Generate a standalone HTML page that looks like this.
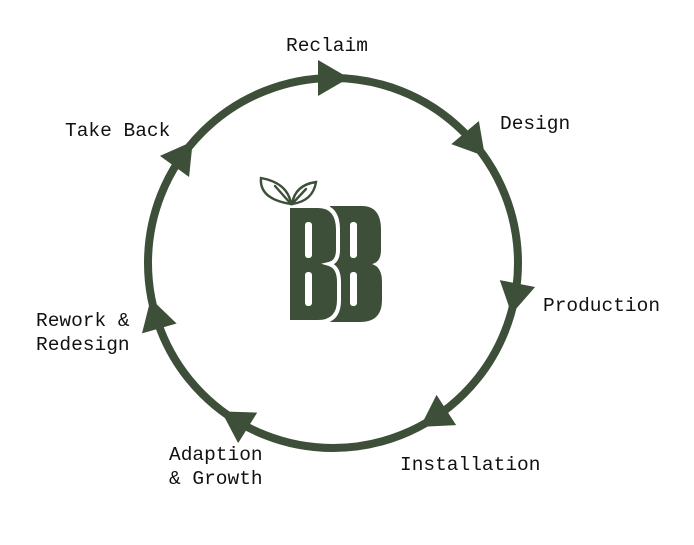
<!DOCTYPE html>
<html><head><style>
body{margin:0;background:#fff;width:694px;height:545px;overflow:hidden}
svg{display:block}
text{font-family:"Liberation Mono","DejaVu Sans Mono",monospace;font-size:19.5px;fill:#111}
</style></head><body>
<svg width="694" height="545" viewBox="0 0 694 545">
<circle cx="333" cy="263" r="185" fill="none" stroke="#3d4f38" stroke-width="8"/>
<g fill="#3d4f38">
<g transform="translate(333,263)">
<polygon transform="rotate(-90) translate(185,0) rotate(90)" points="16,0 -15,-18 -15,18"/>
<polygon transform="rotate(-40) translate(185,0) rotate(90)" points="16,0 -15,-18 -15,18"/>
<polygon transform="rotate(11) translate(185,0) rotate(90)" points="16,0 -15,-18 -15,18"/>
<polygon transform="rotate(57) translate(185,0) rotate(90)" points="16,0 -15,-18 -15,18"/>
<polygon transform="rotate(122) translate(185,0) rotate(90)" points="16,0 -15,-18 -15,18"/>
<polygon transform="rotate(164) translate(185,0) rotate(90)" points="16,0 -15,-18 -15,18"/>
<polygon transform="rotate(216) translate(185,0) rotate(90)" points="16,0 -15,-18 -15,18"/>
</g>
<path d="M330 206 H362 Q381 206 381 230 V250 Q381 262 372 264 Q382 267 382 282 V300 Q382 322 360 322 H330 Z"/>
<path d="M288 206 H318 Q338 206 338 230 V250 Q338 262 329 264 Q339 267 339 282 V300 Q339 322 318 322 H288 Z" stroke="#fff" stroke-width="4"/>
</g>
<g fill="#fff">
<rect x="305" y="222" width="7" height="36" rx="3"/>
<rect x="305" y="272" width="7" height="34" rx="3"/>
<rect x="350" y="222" width="7" height="36" rx="3"/>
<rect x="350" y="272" width="7" height="34" rx="3"/>
</g>
<g fill="none" stroke="#3d4f38" stroke-width="2.4" stroke-linecap="round">
<path d="M291 204 Q288 183 261 178 Q259 199 291 204 Z"/>
<path d="M275 186 L291 204"/>
<path d="M292 204 Q295 185 316 182 Q313 201 292 204 Z"/>
<path d="M306 189 L292 204"/>
</g>
<text x="286" y="51">Reclaim</text>
<text x="500" y="129">Design</text>
<text x="543" y="311">Production</text>
<text x="400" y="470">Installation</text>
<text x="169" y="460">Adaption</text>
<text x="169" y="484">&amp; Growth</text>
<text x="36" y="326">Rework &amp;</text>
<text x="36" y="350">Redesign</text>
<text x="65" y="136">Take Back</text>
</svg>
</body></html>
